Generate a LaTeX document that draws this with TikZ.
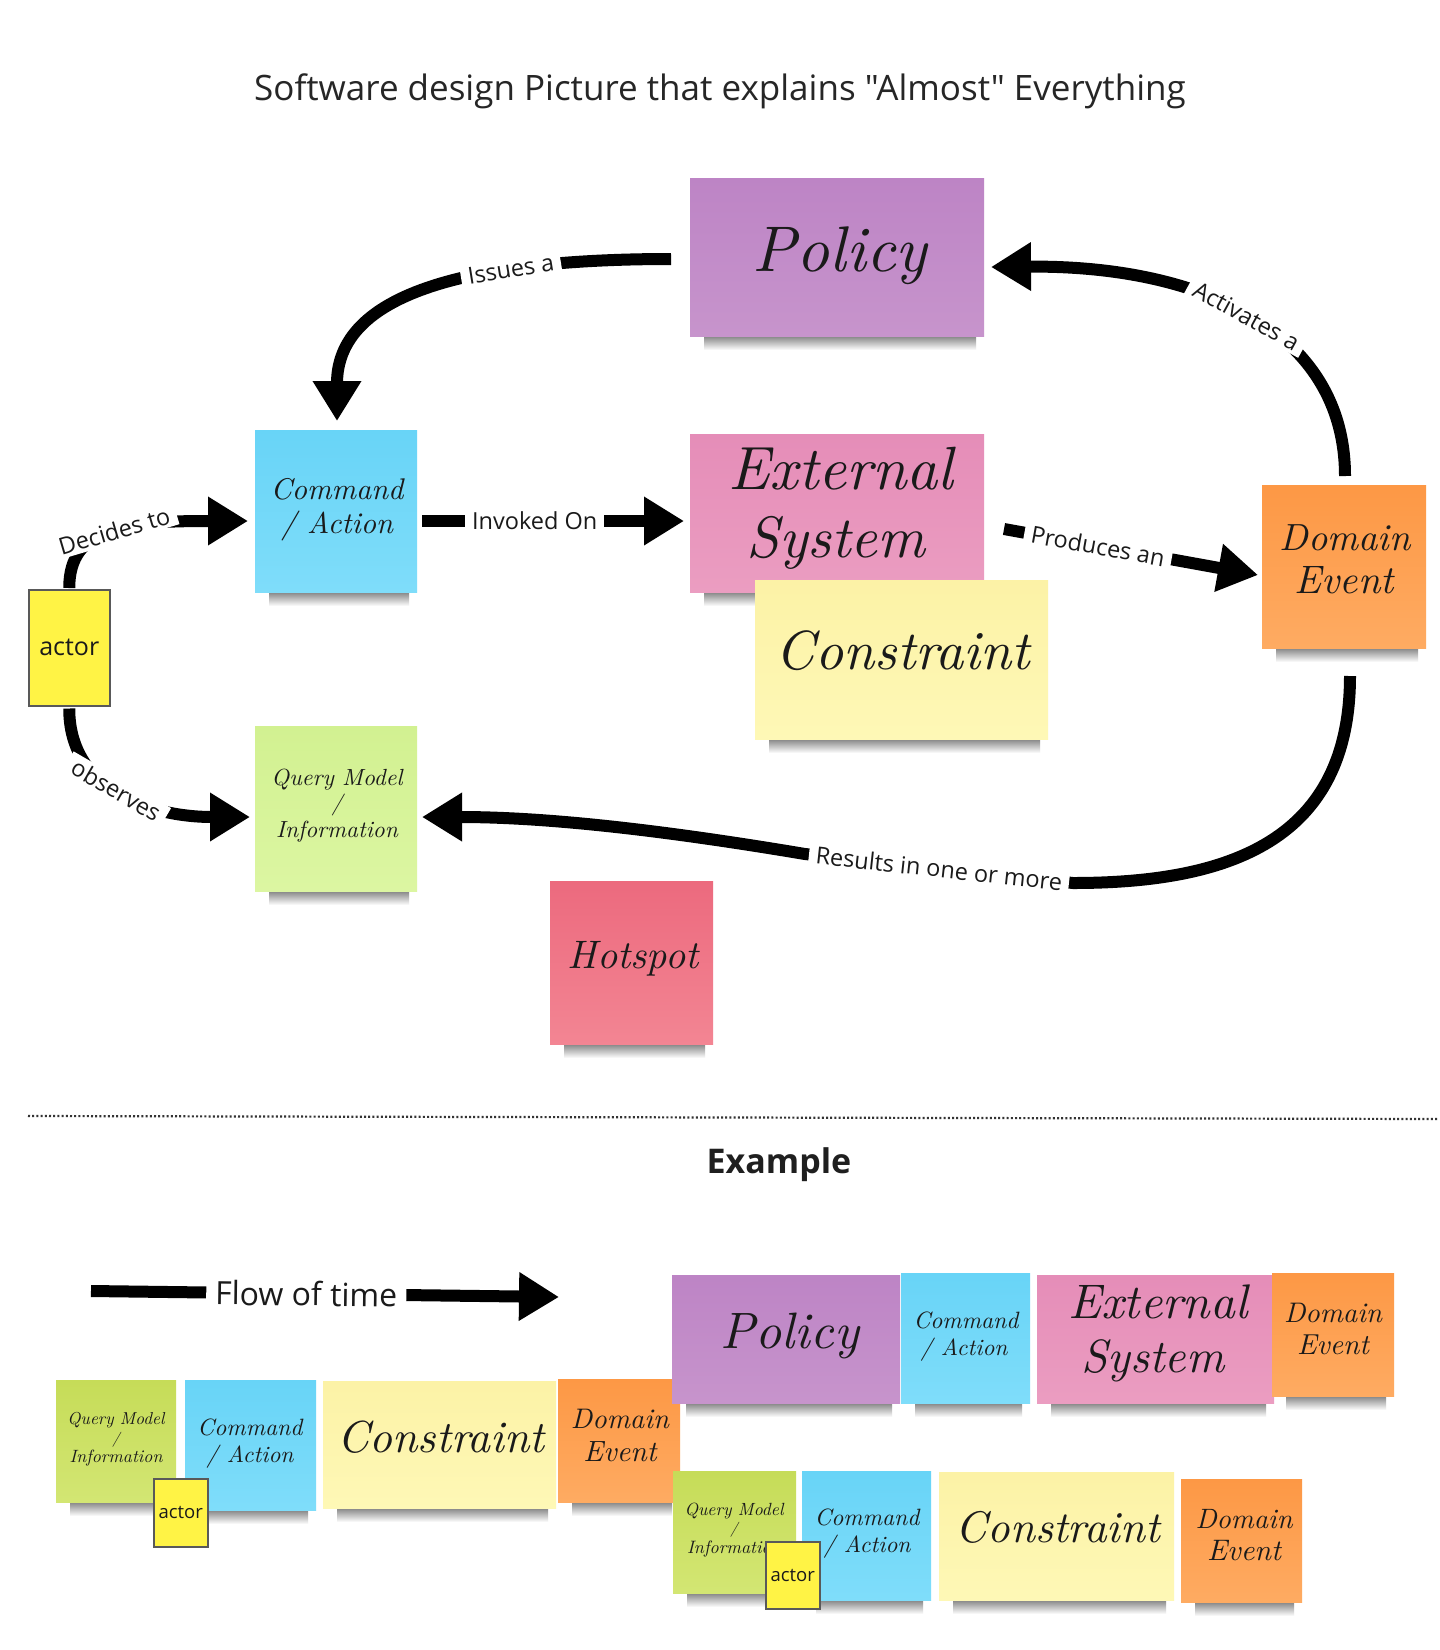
\documentclass[tikz,border=0pt]{standalone}
\usepackage{fontspec}
\usepackage{graphicx}
\newfontfamily\osans{Open Sans}
\usetikzlibrary{arrows.meta,calc}
\definecolor{polA}{HTML}{BD84C5}\definecolor{polB}{HTML}{C794CC}
\definecolor{cmdA}{HTML}{68D4F7}\definecolor{cmdB}{HTML}{7FDDFA}
\definecolor{extA}{HTML}{E58DB8}\definecolor{extB}{HTML}{EB9DC1}
\definecolor{conA}{HTML}{FCF2A6}\definecolor{conB}{HTML}{FEF8B6}
\definecolor{domA}{HTML}{FD9845}\definecolor{domB}{HTML}{FEAB62}
\definecolor{qryA}{HTML}{D2F191}\definecolor{qryB}{HTML}{DCF6A2}
\definecolor{qrzA}{HTML}{C6DC58}\definecolor{qrzB}{HTML}{D3E673}
\definecolor{hotA}{HTML}{EC6A7E}\definecolor{hotB}{HTML}{F38593}
\definecolor{actY}{HTML}{FFF345}
\definecolor{inkc}{HTML}{1A1A1A}
\newcommand{\stickynote}[7]{%
  \shade[top color=black!48, bottom color=white] ({#2+14},{#5}) rectangle ({#4-8},{#5+14});
  \node[inner sep=0pt, outer sep=0pt, minimum width={(#4-#2)*1pt}, minimum height={(#5-#3)*1pt}, top color=#6, bottom color=#7, anchor=north west] (#1) at (#2,#3) {};
}
\newcommand{\hwtext}[5]{\node[hw, anchor=base] (#1) at (#2,#3) {\resizebox{#4pt}{!}{\itshape #5}};}
\begin{document}
\begin{tikzpicture}[x=1pt,y=-1pt]
\tikzset{
  lbl/.style={font=\osans\fontsize{23.5}{28}\selectfont, fill=white, inner xsep=7pt, inner ysep=3pt, text=inkc},
  flow/.style={line width=12pt, -{Triangle[width=46pt,length=40pt]}},
  hw/.style={inner sep=0pt, text=inkc},
  actorbox/.style={draw=black!65, line width=1.5pt, fill=actY, inner sep=0pt, text=inkc},
}
\fill[white] (0,0) rectangle (1440,1650);
\useasboundingbox (0,0) rectangle (1440,1650);

% title
\node[font=\osans\fontsize{35}{42}\selectfont, text=black!85, anchor=base] (title) at (720,100) {Software design Picture that explains "Almost" Everything};

% ---------- top notes ----------
\stickynote{policy}{690}{178}{984}{336}{polA}{polB}
\stickynote{cmd}{255}{430}{417}{592}{cmdA}{cmdB}
\stickynote{ext}{690}{434}{984}{592}{extA}{extB}
\stickynote{cons}{755}{580}{1048}{739}{conA}{conB}
\stickynote{dom}{1262}{485}{1426}{648}{domA}{domB}
\stickynote{query}{255}{726}{417}{891}{qryA}{qryB}
\stickynote{hot}{550}{881}{713}{1044}{hotA}{hotB}
\node[actorbox, minimum width=81pt, minimum height=116pt, anchor=north west, font=\osans\fontsize{25}{30}\selectfont] (actor) at (28,589) {actor};

\hwtext{policyT}{840}{271}{174}{Policy}
\hwtext{cmdT1}{337}{499}{133}{Command}
\hwtext{cmdT2}{337}{533}{112}{/ Action}
\hwtext{extT1}{841}{489}{225}{External}
\hwtext{extT2}{836}{557}{179}{System}
\hwtext{consT}{903}{669}{254}{Constraint}
\hwtext{domT1}{1345}{550}{131}{Domain}
\hwtext{domT2}{1344}{593}{99}{Event}
\hwtext{queryT1}{337}{785}{131}{Query Model}
\node[hw, anchor=base, font=\itshape\fontsize{22}{26}\selectfont] (queryT2) at (337,810) {/};
\hwtext{queryT3}{337}{837}{122}{Information}
\hwtext{hotT}{633}{968}{131}{Hotspot}

% ---------- connectors ----------
\draw[flow] ($(policy.west)+(-19,2)$) .. controls (450,259) and (337,300) .. ($(cmd.north)+(1,-9)$)
  node[lbl, pos=0.28, sloped] (lblIssues) {Issues a};
\draw[flow] ($(dom.north)+(1,-9)$) .. controls (1345,330) and (1200,265) .. ($(policy.east)+(7,10)$)
  node[lbl, pos=0.5, sloped] (lblAct) {Activates a};
\draw[flow] ($(actor.north)+(0,-1)$) .. controls (69,525) and (130,521) .. ($(cmd.west)+(-7,10)$)
  node[lbl, pos=0.5, sloped] (lblDec) {Decides to};
\draw[flow] ($(cmd.east)+(5,10)$) -- ($(ext.west)+(-6,8)$)
  node[lbl, pos=0.43, sloped] (lblInv) {Invoked On};
\draw[flow] ($(ext.east)+(20,16)$) -- ($(dom.west)+(-4,8.5)$)
  node[lbl, pos=0.37, sloped] (lblProd) {Produces an};
\draw[flow] ($(actor.south)+(0,2)$) .. controls (69,790) and (150,817) .. ($(query.west)+(-5,8.5)$)
  node[lbl, pos=0.47, sloped] (lblObs) {observes};
\coordinate (r1) at (1073,883);
\coordinate (r2) at (805,854);
\draw[flow] ($(dom.south)+(6,28)$) .. controls (1350,840) and (1230,883) .. (r1) -- (r2)
  node[lbl, midway, sloped] (lblRes) {Results in one or more}
  .. controls (650,828) and (540,817) .. ($(query.east)+(5,8.5)$);

% ---------- separator ----------
\coordinate (d1) at (28,1116);
\coordinate (d2) at (1438,1119);
\draw[line width=2.2pt, dash pattern=on 2pt off 2.2pt, black!80] (d1) -- (d2);
\node[font=\osans\bfseries\fontsize{34}{40}\selectfont, text=black!88, anchor=base] (example) at (779,1173) {Example};

% flow of time
\coordinate (ft1) at (91,1291);
\coordinate (ft2) at (559,1297);
\draw[flow] (ft1) -- (ft2) node[lbl, pos=0.46, sloped, font=\osans\fontsize{32}{38}\selectfont, inner xsep=9pt] (lblFlow) {Flow of time};

% ---------- bottom left ----------
\stickynote{bq}{56}{1380}{176}{1502}{qrzA}{qrzB}
\stickynote{bc}{185}{1380}{316}{1510}{cmdA}{cmdB}
\stickynote{bk}{323}{1381}{556}{1508}{conA}{conB}
\stickynote{bd}{558}{1379}{680}{1502}{domA}{domB}
\hwtext{bqT1}{116}{1424}{97}{Query Model}
\node[hw, anchor=base, font=\itshape\fontsize{15}{18}\selectfont] (bqT2) at (116,1443) {/};
\hwtext{bqT3}{116}{1462}{93}{Information}
\hwtext{bcT1}{250}{1435}{105}{Command}
\hwtext{bcT2}{250}{1462}{87}{/ Action}
\hwtext{bkT}{441}{1452}{207}{Constraint}
\hwtext{bdT1}{620}{1428}{98}{Domain}
\hwtext{bdT2}{620}{1461}{73}{Event}
\node[actorbox, minimum width=54pt, minimum height=68pt, anchor=north west, font=\osans\fontsize{18.5}{22}\selectfont] (bactor) at (153,1478) {actor};

% ---------- bottom right, row 1 ----------
\stickynote{rp}{672}{1275}{900}{1403}{polA}{polB}
\stickynote{rc}{901}{1273}{1030}{1403}{cmdA}{cmdB}
\stickynote{re}{1037}{1275}{1274}{1403}{extA}{extB}
\stickynote{rd}{1272}{1273}{1394}{1396}{domA}{domB}
\hwtext{rpT}{790}{1348}{138}{Policy}
\hwtext{rcT1}{966}{1328}{105}{Command}
\hwtext{rcT2}{964}{1355}{87}{/ Action}
\hwtext{reT1}{1158}{1318}{179}{External}
\hwtext{reT2}{1153}{1372}{143}{System}
\hwtext{rdT1}{1333}{1322}{98}{Domain}
\hwtext{rdT2}{1333}{1354}{72}{Event}

% ---------- bottom right, row 2 ----------
\stickynote{sq}{673}{1471}{796}{1593}{qrzA}{qrzB}
\stickynote{sc}{802}{1471}{931}{1600}{cmdA}{cmdB}
\stickynote{sk}{939}{1472}{1174}{1600}{conA}{conB}
\stickynote{sd}{1181}{1479}{1302}{1602}{domA}{domB}
\hwtext{sqT1}{734}{1515}{99}{Query Model}
\node[hw, anchor=base, font=\itshape\fontsize{15}{18}\selectfont] (sqT2) at (734,1533) {/};
\hwtext{sqT3}{734}{1553}{94}{Information}
\hwtext{scT1}{867}{1525}{105}{Command}
\hwtext{scT2}{867}{1552}{87}{/ Action}
\hwtext{skT}{1058}{1542}{204}{Constraint}
\hwtext{sdT1}{1244}{1528}{97}{Domain}
\hwtext{sdT2}{1244}{1560}{74}{Event}
\node[actorbox, minimum width=54pt, minimum height=67pt, anchor=north west, font=\osans\fontsize{18.5}{22}\selectfont] (ractor) at (765,1541) {actor};
\end{tikzpicture}
\end{document}
